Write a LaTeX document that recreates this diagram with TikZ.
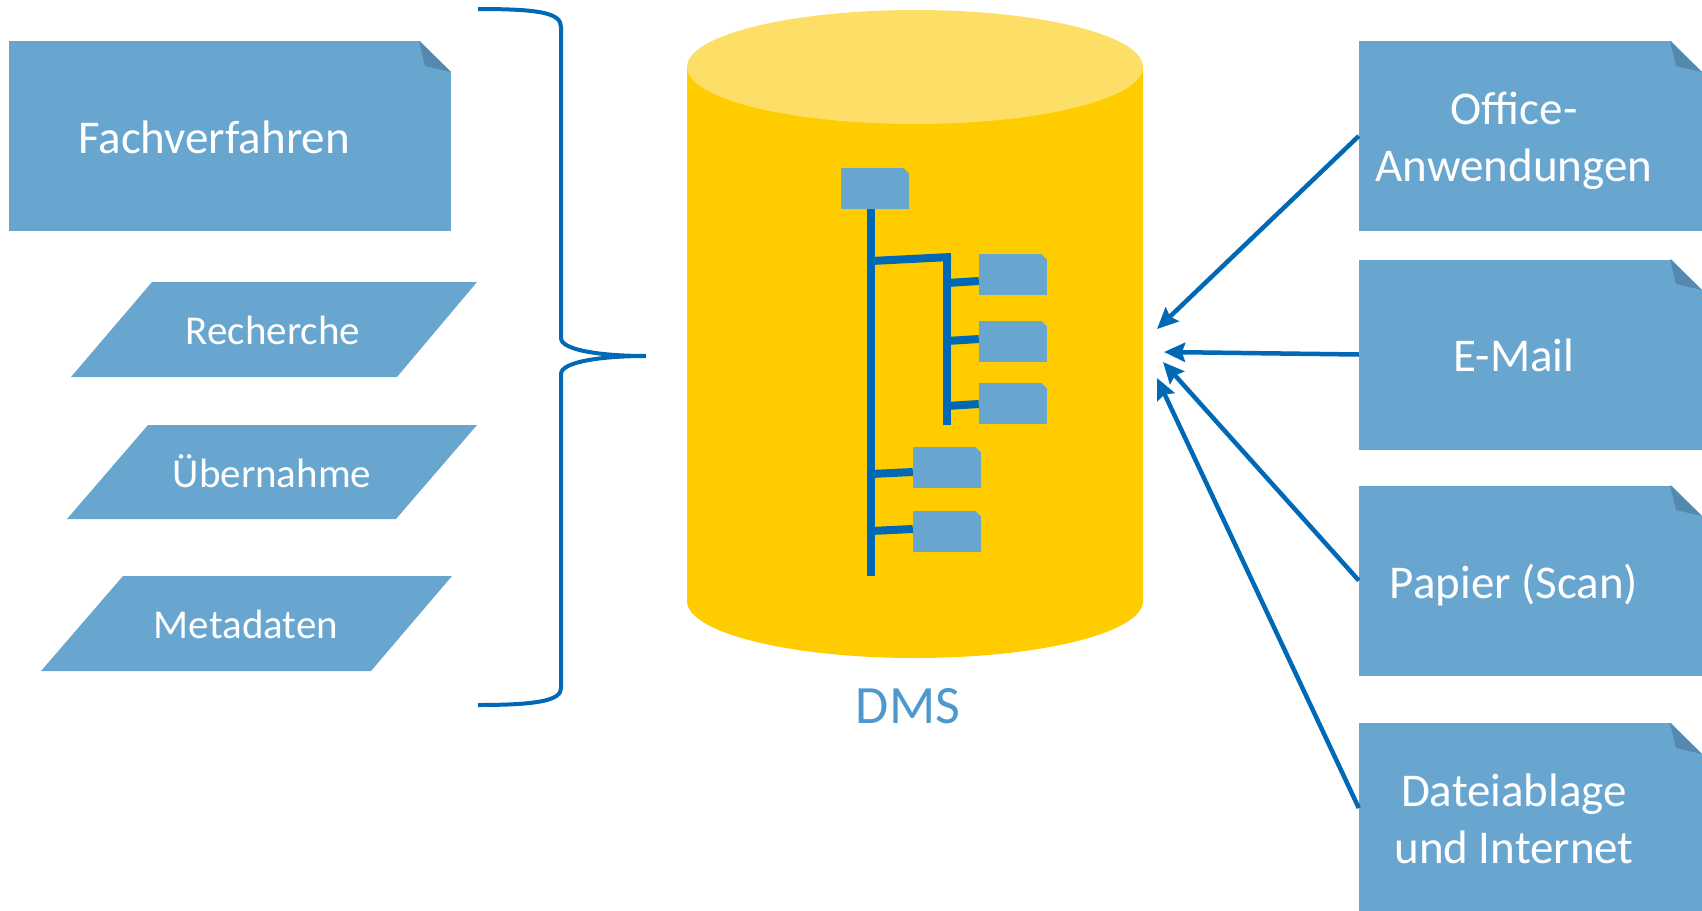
\documentclass[tikz,border=0pt]{standalone}
\usepackage{fontspec}
\setmainfont{Carlito}
\usetikzlibrary{arrows.meta}
\definecolor{boxblue}{RGB}{104,166,208}
\definecolor{folddark}{RGB}{83,136,175}
\definecolor{linkblue}{RGB}{0,104,180}
\definecolor{dmsblue}{RGB}{78,152,205}
\definecolor{cylbody}{RGB}{255,204,0}
\definecolor{cyltop}{RGB}{253,223,104}
\newcommand\docfold[2]{%
  \fill[white] (#1-32,#2-1) -- (#1+1,#2-1) -- (#1+1,#2+32) -- cycle;
  \fill[folddark] (#1-32,#2) -- (#1-26,#2+25) -- (#1,#2+31) -- cycle;}
\newcommand\foldercut[2]{%
  \fill[cylbody] (#1-6,#2-0.5) -- (#1+0.5,#2-0.5) -- (#1+0.5,#2+6) -- cycle;}
\begin{document}
\begin{tikzpicture}[x=1pt,y=-1pt,
  docbox/.style={fill=boxblue, draw=none, inner sep=0pt, minimum height=190pt},
  boxtext/.style={text=white, font=\fontsize{47}{57}\selectfont, anchor=base, inner sep=0pt},
  paratext/.style={text=white, font=\fontsize{41}{49}\selectfont, anchor=base, inner sep=0pt},
  folder/.style={fill=boxblue, draw=none, inner sep=0pt, minimum width=68pt, minimum height=41pt},
  treeline/.style={draw=linkblue, line width=8pt},
  arrowline/.style={draw=linkblue, line width=4.5pt, -{Stealth[length=21pt,width=19pt,inset=3pt]}},
  bracepath/.style={draw=linkblue, line width=4pt}]
\useasboundingbox (0,0) rectangle (1702,910);

% ---------- left side ----------
\node[docbox, minimum width=442pt] (fach) at (230,136) {};
\docfold{451}{41}
\node[boxtext] (fachtext) at (214,153) {Fachverfahren};

\fill[boxblue] (152,282) -- (477,282) -- (397,377) -- (71,377) -- cycle;
\node[paratext] (recherche) at (273,344) {Recherche};
\fill[boxblue] (148,425) -- (477,425) -- (396,519) -- (67,519) -- cycle;
\node[paratext] (uebernahme) at (272,487) {Übernahme};
\fill[boxblue] (123,576) -- (452,576) -- (371,671) -- (41,671) -- cycle;
\node[paratext] (metadaten) at (246,638) {Metadaten};

% brace
\draw[bracepath] (478,9) .. controls (540,9) and (561,13) .. (561,27)
  -- (561,338) .. controls (561,350) and (600,356) .. (646,356)
  .. controls (600,356) and (561,362) .. (561,374)
  -- (561,688) .. controls (561,700) and (540,705) .. (478,705);

% ---------- cylinder ----------
\fill[cylbody] (687,67) rectangle (1143,601);
\fill[cylbody] (915,601) ellipse [x radius=228, y radius=57];
\fill[cyltop] (915,67) ellipse [x radius=228, y radius=57];
\node[text=dmsblue, font=\fontsize{54}{60}\selectfont, anchor=base, inner sep=0pt] (dms) at (908,723) {DMS};

% folder tree
\draw[treeline] (871,209) -- (871,576);
\draw[treeline] (871,261) -- (951,257);
\draw[treeline] (947,257) -- (947,425);
\node[folder] (f0) at (875,188.5) {};
\foldercut{909}{168}
\node[folder] (f1) at (1013,274.5) {};
\foldercut{1047}{254}
\node[folder] (f2) at (1013,341.5) {};
\foldercut{1047}{321}
\node[folder] (f3) at (1013,403.5) {};
\foldercut{1047}{383}
\node[folder] (f4) at (947,467.5) {};
\foldercut{981}{447}
\node[folder] (f5) at (947,531.5) {};
\foldercut{981}{511}
\draw[treeline] (947,283) -- (f1.west |- 0,281);
\draw[treeline] (947,341) -- (f2.west |- 0,339);
\draw[treeline] (947,406) -- (f3.west |- 0,404);
\draw[treeline] (871,474) -- (f4.west |- 0,472);
\draw[treeline] (871,531) -- (f5.west |- 0,529);

% ---------- right side ----------
\node[docbox, minimum width=343pt] (office) at (1530.5,136) {};
\docfold{1702}{41}
\node[boxtext] (officetext) at (1514,124) {\begin{tabular}[t]{@{}c@{}}Office-\\Anwendungen\end{tabular}};

\node[docbox, minimum width=343pt] (email) at (1530.5,354.5) {};
\docfold{1702}{259}
\node[boxtext] (emailtext) at (1514,371) {E-Mail};

\node[docbox, minimum width=343pt] (papier) at (1530.5,580.5) {};
\docfold{1702}{485}
\node[boxtext] (papiertext) at (1514,598) {Papier (Scan)};

\node[docbox, minimum width=343pt] (datei) at (1530.5,818) {};
\docfold{1702}{723}
\node[boxtext] (dateitext) at (1514,806) {\begin{tabular}[t]{@{}c@{}}Dateiablage\\und Internet\end{tabular}};

% arrows
\coordinate (tipA) at (1157,329);
\coordinate (tipB) at (1164,352);
\coordinate (tipC) at (1163,362);
\coordinate (tipD) at (1157,378);
\draw[arrowline] (office.west) -- (tipA);
\draw[arrowline] (email.west) -- (tipB);
\draw[arrowline] (papier.west) -- (tipC);
\draw[arrowline] ([yshift=10pt]datei.west) -- (tipD);
\end{tikzpicture}
\end{document}
